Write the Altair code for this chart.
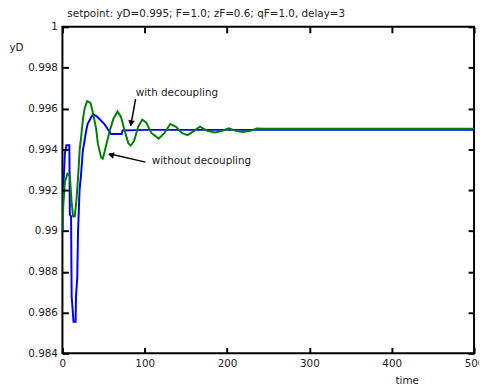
import altair as alt
import pandas as pd

title_text = "setpoint: yD=0.995; F=1.0; zF=0.6; qF=1.0, delay=3"

# with decoupling (blue)
t_dec = [0, 0.5, 1.5, 3, 4.8, 8.4, 9, 10.5, 11.2, 13.5, 16, 16.5, 18, 19, 20.8, 22.5, 24.7, 26.8,
         28.8, 30.7, 34.8, 37, 41, 45, 51, 55, 59, 72, 73, 100, 500]
y_dec = [0.9900, 0.9914, 0.9925, 0.9938, 0.9942, 0.9942, 0.9908, 0.9907, 0.9868, 0.98555, 0.98555,
         0.9868, 0.9877, 0.9900, 0.9920, 0.9927, 0.9939, 0.9944, 0.9949, 0.99525, 0.99556, 0.99570,
         0.99564, 0.99548, 0.99523, 0.99499, 0.99475, 0.99475, 0.99492, 0.99495, 0.99495]

# without decoupling (green)
t_nodec = [0, 1, 3, 6, 9, 11, 13, 15, 17, 19, 21, 23, 25, 27, 30, 34, 37, 41, 43, 47, 49, 52, 57,
           62, 67, 71, 75, 80, 83, 87, 92, 97, 102, 108, 117, 124, 131, 138, 145, 152, 160, 167,
           176, 185, 194, 202, 211, 219, 228, 236, 245, 500]
y_nodec = [0.9900, 0.9912, 0.9924, 0.9928, 0.9927, 0.9915, 0.9907, 0.9907, 0.9915, 0.9926, 0.9940,
           0.9947, 0.9955, 0.9960, 0.99636, 0.99628, 0.9958, 0.9950, 0.9943, 0.9936, 0.99354,
           0.9940, 0.99483, 0.9955, 0.99585, 0.9956, 0.9950, 0.9943, 0.99418, 0.9944, 0.9951,
           0.99545, 0.9953, 0.9948, 0.99452, 0.9948, 0.99524, 0.9951, 0.9948, 0.99469, 0.9949,
           0.99511, 0.9949, 0.99482, 0.9949, 0.99503, 0.9949, 0.99485, 0.9949, 0.99502, 0.9950,
           0.9950]

x_ticks = [0, 100, 200, 300, 400, 500]
y_ticks = [0.984, 0.986, 0.988, 0.990, 0.992, 0.994, 0.996, 0.998, 1.0]

label_text = ["with decoupling", "without decoupling"]
label_t = [89.0, 108.5]
label_y = [0.99675, 0.99341]

arrow_t1 = [88.9, 100.9]
arrow_y1 = [0.99646, 0.99337]
arrow_t2 = [82.9, 56.8]
arrow_y2 = [0.99515, 0.99378]
head_t = [83.4, 59.0]
head_y = [0.99528, 0.99373]
head_angle = [190, 283]

FONT = "DejaVu Sans"
FS = 10.5
TICKC = "black"
TS = 6

lines = pd.concat([
    pd.DataFrame({"t": t_dec, "y": y_dec, "s": "with", "o": 0}),
    pd.DataFrame({"t": t_nodec, "y": y_nodec, "s": "without", "o": 1}),
])
labels = pd.DataFrame({"t": label_t, "y": label_y, "txt": label_text})
arrows = pd.DataFrame({"t": arrow_t1, "y": arrow_y1, "t2": arrow_t2, "y2": arrow_y2,
                       "ht": head_t, "hy": head_y, "ang": head_angle})

xs = alt.Scale(domain=[0, 500], nice=False, zero=False)
ys = alt.Scale(domain=[0.984, 1.0], nice=False, zero=False)

x_axis = alt.Axis(values=x_ticks, format="d", domain=False, grid=False, offset=-TS, tickSize=TS,
                  ticks=True, tickWidth=2, tickColor=TICKC, labelPadding=5, labelFlush=False,
                  labelFont=FONT, labelFontSize=FS, labelColor="#222", title="time",
                  titleFont=FONT, titleFontSize=FS, titleFontWeight="normal", titleColor="#222",
                  titleX=348, titleY=33, titleBaseline="middle", titleAlign="center", zindex=2)
y_axis = alt.Axis(values=y_ticks, format=".3~f", domain=False, grid=False, offset=-TS, tickSize=TS,
                  ticks=True, tickWidth=2, tickColor=TICKC, labelPadding=5, labelFlush=False,
                  labelFont=FONT, labelFontSize=FS, labelColor="#222", title="yD",
                  titleFont=FONT, titleFontSize=FS, titleFontWeight="normal", titleColor="#222",
                  titleAngle=0, titleX=-60, titleY=21, titleAlign="left",
                  titleBaseline="middle", zindex=2)

base_line = alt.Chart(lines).mark_line(strokeWidth=2, clip=True).encode(
    x=alt.X("t:Q", scale=xs, axis=x_axis),
    y=alt.Y("y:Q", scale=ys, axis=y_axis),
    color=alt.Color("s:N", scale=alt.Scale(domain=["with", "without"], range=["#0000ff", "#008000"]),
                    legend=None),
    order="o:Q",
    detail="s:N",
)

x_axis2 = alt.Axis(values=x_ticks, orient="top", labels=False, domain=False, grid=False, offset=-TS,
                   ticks=True, tickSize=TS, tickWidth=2, tickColor=TICKC, title=None, zindex=2)
y_axis2 = alt.Axis(values=y_ticks, orient="right", labels=False, domain=False, grid=False, offset=-TS,
                   ticks=True, tickSize=TS, tickWidth=2, tickColor=TICKC, title=None, zindex=2)

rules = alt.Chart(arrows).mark_rule(strokeWidth=1.5, color="black").encode(
    x=alt.X("t:Q", scale=xs, axis=x_axis2),
    y=alt.Y("y:Q", scale=ys, axis=y_axis2),
    x2="t2:Q", y2="y2:Q",
)
heads = alt.Chart(arrows).mark_point(shape="triangle-up", filled=True, color="black", size=45,
                                     opacity=1).encode(
    x=alt.X("ht:Q", scale=xs, axis=None),
    y=alt.Y("hy:Q", scale=ys, axis=None),
    angle=alt.Angle("ang:Q", scale=None),
)
texts = alt.Chart(labels).mark_text(align="left", baseline="middle", font=FONT, fontSize=FS,
                                    color="#222").encode(
    x=alt.X("t:Q", scale=xs, axis=None), y=alt.Y("y:Q", scale=ys, axis=None), text="txt:N")

chart = alt.layer(base_line, rules, heads, texts).resolve_axis(
    x="independent", y="independent"
).properties(
    width=416, height=330,
    title=alt.TitleParams(title_text, anchor="start", frame="group", dx=5, offset=2, font=FONT,
                          fontSize=FS, fontWeight="normal", color="#222"),
    autosize=alt.AutoSizeParams(type="none"),
    padding={"left": 55, "top": 17, "right": 5, "bottom": 33},
).configure_view(stroke="black", strokeWidth=2)

chart.save("out.html", embed_options={"renderer": "svg", "actions": False})
